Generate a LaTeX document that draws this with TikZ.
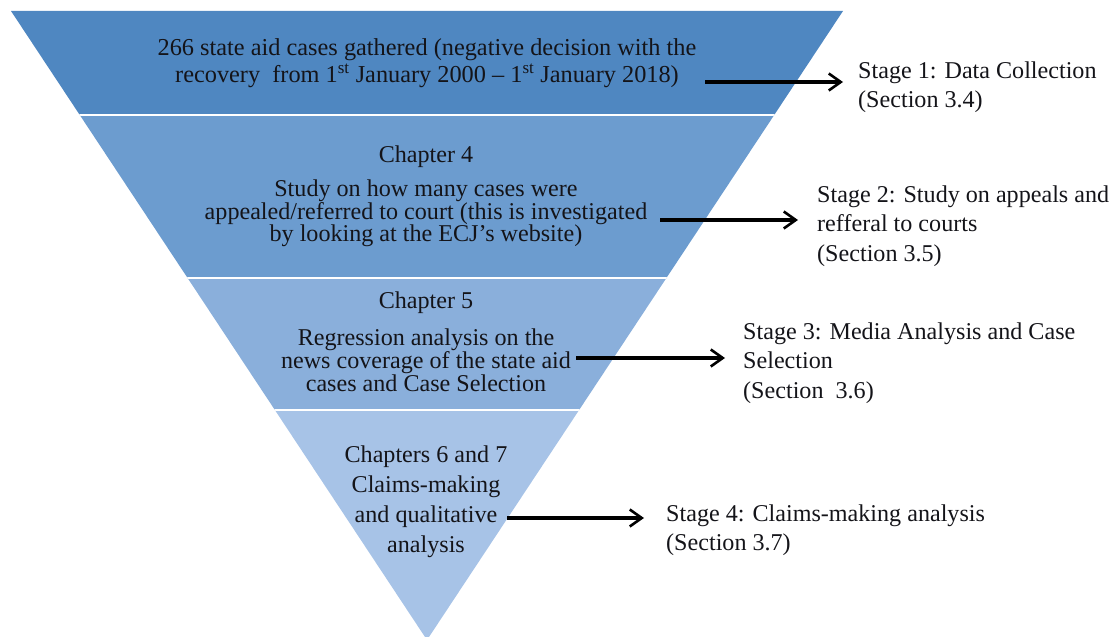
\documentclass[tikz,border=0pt]{standalone}
\usepackage{fontspec}
\setmainfont{Liberation Serif}
\usetikzlibrary{arrows.meta}
\definecolor{bandA}{RGB}{79,135,193}
\definecolor{bandB}{RGB}{108,156,207}
\definecolor{bandC}{RGB}{138,175,219}
\definecolor{bandD}{RGB}{167,195,231}
\definecolor{ink}{RGB}{20,20,25}
\begin{document}
\begin{tikzpicture}[x=1bp,y=-1bp,
  inner/.style={align=center, inner sep=0pt, text=ink},
  stage/.style={align=left, inner sep=0pt, anchor=west, text=ink,
    font=\fontsize{24.2}{29.5}\selectfont},
  flow/.style={line width=3.2bp, -{Straight Barb[length=12bp,width=17bp,line width=2.6bp]}},
  sep/.style={white, line width=2bp}]
\useasboundingbox (0,0) rectangle (1117,637);
% inverted triangle in four bands
\begin{scope}
  \clip (11,11) -- (843,11) -- (427,640) -- cycle;
  \fill[bandA] (0,0) rectangle (1117,115);
  \fill[bandB] (0,115) rectangle (1117,278);
  \fill[bandC] (0,278) rectangle (1117,410);
  \fill[bandD] (0,410) rectangle (1117,640);
  \draw[sep] (0,115) -- (1117,115);
  \draw[sep] (0,278) -- (1117,278);
  \draw[sep] (0,410) -- (1117,410);
\end{scope}
% band texts
\node[inner, font=\fontsize{24.4}{27}\selectfont] (t1) at (427,63.5)
  {266 state aid cases gathered (negative decision with the\\
   recovery\ \ from 1\textsuperscript{st} January 2000 – 1\textsuperscript{st} January 2018)};
\node[inner, font=\fontsize{24.2}{24}\selectfont] (c4) at (426,156.5) {Chapter 4};
\node[inner, font=\fontsize{24.2}{22.5}\selectfont] (t2) at (426,213.5)
  {Study on how many cases were\\
   appealed/referred to court (this is investigated\\
   by looking at the ECJ’s website)};
\node[inner, font=\fontsize{24.2}{24}\selectfont] (c5) at (426,302.5) {Chapter 5};
\node[inner, font=\fontsize{24.2}{23}\selectfont] (t3) at (426,360)
  {Regression analysis on the\\
   news coverage of the state aid\\
   cases and Case Selection};
\node[inner, font=\fontsize{24.2}{30}\selectfont] (t4) at (426,502)
  {Chapters 6 and 7\\ Claims-making\\ and qualitative\\ analysis};
% stage labels
\node[stage] (s1) at (858,87) {Stage 1: Data Collection\\(Section 3.4)};
\node[stage] (s2) at (817,226) {Stage 2: Study on appeals and\\refferal to courts\\(Section 3.5)};
\node[stage] (s3) at (743,363) {Stage 3: Media Analysis and Case\\Selection\\(Section\ \ 3.6)};
\node[stage] (s4) at (666,530) {Stage 4: Claims-making analysis\\(Section 3.7)};
% arrows
\coordinate (a1) at (705,82);
\coordinate (a2) at (660,220);
\coordinate (a3) at (576,358);
\coordinate (a4) at (507,518);
\draw[flow, shorten >=15bp] (a1) -- (a1 -| s1.west);
\draw[flow, shorten >=19bp] (a2) -- (a2 -| s2.west);
\draw[flow, shorten >=18bp] (a3) -- (a3 -| s3.west);
\draw[flow, shorten >=22bp] (a4) -- (a4 -| s4.west);
\end{tikzpicture}
\end{document}
